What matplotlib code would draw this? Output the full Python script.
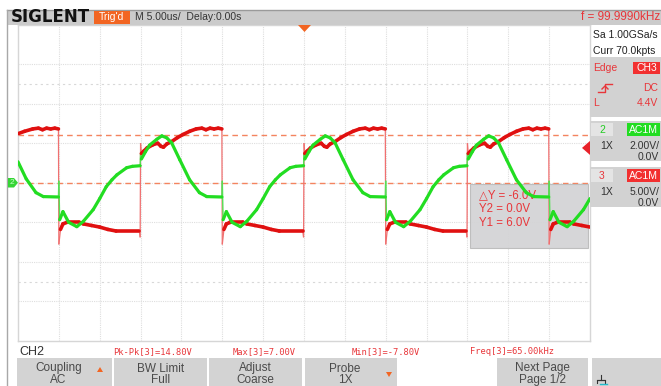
import numpy as np
import matplotlib
matplotlib.use("Agg")
import matplotlib.pyplot as plt
from matplotlib.collections import LineCollection
from matplotlib.patches import Rectangle, Polygon

time_per_div = 5.0   # us / div
ch2_volts_per_div = 2.0
ch3_volts_per_div = 5.0
trigger_level = 4.4  # V on CH3
cursor_y1 = 6.0
cursor_y2 = 0.0

# CH3 (red) trace: time in us, volts
ch3_t = [-35.0, -34.2, -33.2, -32.5, -32.0, -31.5, -31.0, -30.5, -30.05,
         -30.0, -29.8, -29.5, -29.0, -27.5, -27.0, -26.0, -25.0, -24.0, -23.0, -20.15, -20.05,
         -20.0, -19.9, -19.6, -19.2, -18.5, -17.9, -17.5, -17.2, -16.8, -16.2, -15.5, -14.8,
         -14.0, -13.2, -12.5, -12.0, -11.5, -11.0, -10.5, -10.05,
         -10.0, -9.8, -9.5, -9.0, -7.5, -7.0, -6.0, -5.0, -4.0, -3.0, -0.15, -0.05,
         0.0, 0.1, 0.4, 0.8, 1.5, 2.1, 2.5, 2.8, 3.2, 3.8, 4.5, 5.2, 6.0, 6.8, 7.5, 8.0,
         8.5, 9.0, 9.5, 9.95,
         10.0, 10.2, 10.5, 11.0, 12.5, 13.0, 14.0, 15.0, 16.0, 17.0, 19.85, 19.95,
         20.0, 20.1, 20.4, 20.8, 21.5, 22.1, 22.5, 22.8, 23.2, 23.8, 24.5, 25.2, 26.0, 26.8,
         27.5, 28.0, 28.5, 29.0, 29.5, 29.95,
         30.0, 30.2, 30.5, 31.0, 32.5, 33.0, 34.0, 35.0]
ch3_v = [6.2, 6.5, 6.8, 6.9, 6.7, 6.9, 6.8, 6.9, 6.8,
         -7.8, -5.9, -5.2, -5.0, -5.0, -5.2, -5.4, -5.6, -5.9, -6.1, -6.1, -6.9,
         5.0, 3.7, 4.0, 4.4, 4.8, 5.0, 4.6, 4.5, 4.9, 5.2, 5.7, 6.1,
         6.5, 6.8, 6.9, 6.7, 6.9, 6.8, 6.9, 6.8,
         -7.8, -5.9, -5.2, -5.0, -5.0, -5.2, -5.4, -5.6, -5.9, -6.1, -6.1, -6.9,
         5.0, 3.7, 4.0, 4.4, 4.8, 5.0, 4.6, 4.5, 4.9, 5.2, 5.7, 6.1, 6.5, 6.8, 6.9, 6.7,
         6.9, 6.8, 6.9, 6.8,
         -7.8, -5.9, -5.2, -5.0, -5.0, -5.2, -5.4, -5.6, -5.9, -6.1, -6.1, -6.9,
         5.0, 3.7, 4.0, 4.4, 4.8, 5.0, 4.6, 4.5, 4.9, 5.2, 5.7, 6.1, 6.5, 6.8,
         6.9, 6.7, 6.9, 6.8, 6.9, 6.8,
         -7.8, -5.9, -5.2, -5.0, -5.0, -5.2, -5.4, -5.6]

# CH2 (green) trace: time in us, volts
ch2_t = [-35.0, -34.0, -32.8, -31.9, -30.05,
         -30.0, -29.9, -29.5, -28.8, -27.8, -27.0, -25.8, -25.0, -24.2, -23.5, -22.9, -21.7, -21.0, -20.05,
         -20.0, -19.9, -19.4, -18.9, -18.0, -17.4, -16.8, -16.2, -15.2, -14.0, -12.8, -11.9, -10.05,
         -10.0, -9.9, -9.5, -8.8, -7.8, -7.0, -5.8, -5.0, -4.2, -3.5, -2.9, -1.7, -1.0, -0.05,
         0.0, 0.1, 0.6, 1.1, 2.0, 2.6, 3.2, 3.8, 4.8, 6.0, 7.2, 8.1, 9.95,
         10.0, 10.1, 10.5, 11.2, 12.2, 13.0, 14.2, 15.0, 15.8, 16.5, 17.1, 18.3, 19.0, 19.95,
         20.0, 20.1, 20.6, 21.1, 22.0, 22.6, 23.2, 23.8, 24.8, 26.0, 27.2, 28.1, 29.95,
         30.0, 30.1, 30.5, 31.2, 32.2, 33.0, 34.2, 35.0]
ch2_v = [1.06, 0.2, -0.5, -0.7, -0.72,
         0.1, -1.87, -1.46, -2.0, -2.22, -1.95, -1.36, -0.8, -0.2, 0.15, 0.4, 0.76, 0.83, 0.86,
         1.5, 1.2, 1.57, 1.9, 2.2, 2.37, 2.27, 2.02, 1.16, 0.15, -0.5, -0.7, -0.72,
         0.1, -1.87, -1.46, -2.0, -2.22, -1.95, -1.36, -0.8, -0.2, 0.15, 0.4, 0.76, 0.83, 0.86,
         1.5, 1.2, 1.57, 1.9, 2.2, 2.37, 2.27, 2.02, 1.16, 0.15, -0.5, -0.7, -0.72,
         0.1, -1.87, -1.46, -2.0, -2.22, -1.95, -1.36, -0.8, -0.2, 0.15, 0.4, 0.76, 0.83, 0.86,
         1.5, 1.2, 1.57, 1.9, 2.2, 2.37, 2.27, 2.02, 1.16, 0.15, -0.5, -0.7, -0.72,
         0.1, -1.87, -1.46, -2.0, -2.22, -1.95, -1.36, -0.8]

meas_labels = ["Pk-Pk[3]=14.80V", "Max[3]=7.00V", "Min[3]=-7.80V", "Freq[3]=65.00kHz"]
button_top = ["Coupling", "BW Limit", "Adjust", "Probe", "Next Page"]
button_bottom = ["AC", "Full", "Coarse", "1X", "Page 1/2"]
cursor_lines = ["\u25b3Y = -6.0V", "Y2 = 0.0V", "Y1 = 6.0V"]

# ---------------- figure ----------------
W, H = 661, 386
fig = plt.figure(figsize=(W / 100, H / 100), dpi=100)
fig.patch.set_facecolor("white")
FONT = ["Liberation Sans", "DejaVu Sans"]
RED = "#e8363a"
ORANGE = "#f26522"
GREEN = "#22dd22"


def fx(x):
    return x / W


def fy(y):
    return 1 - y / H


def prect(x0, y0, x1, y1, **kw):
    fig.add_artist(Rectangle((fx(x0), fy(y1)), (x1 - x0) / W, (y1 - y0) / H,
                             transform=fig.transFigure, **kw))


def ptext(x, y, s, **kw):
    kw.setdefault("family", FONT)
    kw.setdefault("va", "center")
    fig.text(fx(x), fy(y), s, **kw)


def ppoly(pts, **kw):
    fig.add_artist(Polygon([(fx(a), fy(b)) for a, b in pts], closed=True,
                           transform=fig.transFigure, **kw))


def pline(xs, ys, **kw):
    fig.add_artist(plt.Line2D([fx(a) for a in xs], [fy(b) for b in ys],
                              transform=fig.transFigure, **kw))


# header bar
prect(7, 10, 661, 24.5, facecolor="#cbcbcb", edgecolor="none", zorder=1)
pline([7, 661], [10, 10], color="#9a9a9a", lw=1.0, zorder=2)
pline([7, 7], [10, 386], color="#a8a8a8", lw=1.0, zorder=2)
ptext(11, 17.5, "SIGLENT", fontsize=12, fontweight="heavy", color="#111111",
      family="DejaVu Sans")
prect(94, 11, 130, 24, facecolor=ORANGE, edgecolor="none", zorder=3)
ptext(112, 17.5, "Trig'd", fontsize=7.5, color="white", ha="center", zorder=4)
ptext(135, 17.5, "M 5.00us/  Delay:0.00s", fontsize=7.5, color="#333333")
ptext(660, 17.5, "f = 99.9990kHz", fontsize=8.5, color=RED, ha="right")

# ---------------- graticule ----------------
L, R, T, B = 18, 590, 24.5, 341
ax = fig.add_axes([fx(L), fy(B), (R - L) / W, (B - T) / H])
ax.set_xlim(-7 * time_per_div, 7 * time_per_div)
ax.set_ylim(-4, 4)
ax.set_xticks([])
ax.set_yticks([])
for s in ax.spines.values():
    s.set_color("#d6d6d6")
    s.set_linewidth(1.0)
for i in range(-6, 7):
    ax.axvline(i * time_per_div, color="#dedede", lw=0.8, ls=(0, (1, 1)), zorder=1)
for j in range(-3, 4):
    ax.axhline(j, color="#dedede", lw=0.8, ls=(0, (1, 1)), zorder=1)
for j in (-2.5, 2.5):
    ax.axhline(j, color="#d8d8d8", lw=0.8, ls=(0, (2, 3)), zorder=1)

# cursors
for cv in (cursor_y1, cursor_y2):
    ax.axhline(cv / ch3_volts_per_div, color="#f4845f", lw=1.0, ls=(0, (4, 3)), zorder=2)

# cursor readout box (behind traces)
box_x0, box_x1 = 20.3, 34.8
ax.add_patch(Rectangle((box_x0, -1.65), box_x1 - box_x0, 1.65 - 0.04, facecolor="#d4d4d6",
                       edgecolor="#bcbcbc", lw=0.8, alpha=0.95, zorder=2))
for k, s in enumerate(cursor_lines):
    ax.text(21.4, -0.31 - k * 0.355, s, fontsize=8.3, color=RED, family=FONT,
            va="center", zorder=3)


def trace(t, v, vdiv, color, edge_color, lw_thick, lw_thin):
    t = np.asarray(t, float)
    y = np.asarray(v, float) / vdiv
    pts = np.column_stack([t, y])
    segs = np.stack([pts[:-1], pts[1:]], axis=1)
    dxp = np.diff(t) * (R - L) / (14 * time_per_div)
    dyp = np.abs(np.diff(y)) * (B - T) / 8
    steep = dyp > 4 * np.maximum(dxp, 1e-6)
    thin = LineCollection(segs[steep], linewidths=lw_thin, colors=edge_color, zorder=4)
    thick = LineCollection(segs[~steep], linewidths=lw_thick, colors=color,
                           capstyle="round", joinstyle="round", zorder=5)
    ax.add_collection(thin)
    ax.add_collection(thick)


trace(ch3_t, ch3_v, ch3_volts_per_div, "#e01010", "#f07070", 2.6, 0.9)
trace(ch2_t, ch2_v, ch2_volts_per_div, GREEN, "#55e055", 2.3, 1.0)

# markers
ppoly([(298, 25), (311, 25), (304.5, 32)], facecolor=ORANGE, edgecolor="none", zorder=6)
ty = 182.75 - trigger_level / ch3_volts_per_div * (B - T) / 8
ppoly([(590, ty - 7), (590, ty + 7), (582, ty)], facecolor="#e8222a", edgecolor="none", zorder=6)
ppoly([(8, 178), (14, 178), (18, 182.75), (14, 187.5), (8, 187.5)],
      facecolor="#35d535", edgecolor="none", zorder=6)
ptext(12, 183, "2", fontsize=6, color="#c8ffc8", ha="center", zorder=7)

# ---------------- right panel ----------------
ptext(593, 35, "Sa 1.00GSa/s", fontsize=7.5, color="#222222")
ptext(593, 51, "Curr 70.0kpts", fontsize=7.5, color="#222222")
prect(590, 57, 661, 117, facecolor="#d2d2d2", edgecolor="none")
ptext(593, 68, "Edge", fontsize=7.5, color=RED)
prect(633, 62, 660, 74, facecolor="#f23030", edgecolor="none")
ptext(647, 68, "CH3", fontsize=7.5, color="white", ha="center")
pline([598, 605, 605, 612], [92, 92, 84, 84], color=RED, lw=1.0)
pline([602, 605, 608], [89, 86, 89], color=RED, lw=1.0)
ptext(658, 88, "DC", fontsize=7.5, color=RED, ha="right")
ptext(593, 103, "L", fontsize=7.5, color=RED)
ptext(658, 103, "4.4V", fontsize=7.5, color=RED, ha="right")

for (y0, label, col, vd) in [(121, "2", "#22cc22", "2.00V/"), (167, "3", RED, "5.00V/")]:
    prect(590, y0, 661, y0 + 40, facecolor="#d2d2d2", edgecolor="none")
    prect(591, y0 + 2, 613, y0 + 15, facecolor="#e4e4e4", edgecolor="none")
    ptext(602, y0 + 9, label, fontsize=7.5, color=col, ha="center")
    boxc = "#22dd22" if label == "2" else "#f23030"
    prect(627, y0 + 2, 660, y0 + 15, facecolor=boxc, edgecolor="none")
    ptext(643.5, y0 + 9, "AC1M", fontsize=7.5, color="white", ha="center")
    ptext(600, y0 + 25, "1X", fontsize=7.5, color="#333333")
    ptext(659, y0 + 25, vd, fontsize=7.5, color="#333333", ha="right")
    ptext(659, y0 + 36, "0.0V", fontsize=7.5, color="#333333", ha="right")

# ---------------- bottom area ----------------
ptext(19, 352, "CH2", fontsize=9, color="#333333")
for s, x in zip(meas_labels, [113, 233, 352, 470]):
    ptext(x, 352, s, fontsize=6.3, color=RED, family="DejaVu Sans Mono")

btn_x = [(17, 112), (114, 207), (209, 302), (305, 397), (497, 588)]
for (x0, x1), top, bot in zip(btn_x, button_top, button_bottom):
    prect(x0, 358, x1, 388, facecolor="#d3d3d3", edgecolor="none")
    cx = (x0 + x1) / 2 - (6 if top in ("Coupling", "Probe") else 0)
    ptext(cx, 368.5, top, fontsize=8.5, color="#4a4a4a", ha="center")
    ptext(cx, 380, bot, fontsize=8.5, color="#4a4a4a", ha="center")
prect(592, 358, 661, 388, facecolor="#d3d3d3", edgecolor="none")
# small orange arrows
ppoly([(100, 367), (97, 372), (103, 372)], facecolor=ORANGE, edgecolor="none")
ppoly([(389, 377), (386, 372), (392, 372)], facecolor=ORANGE, edgecolor="none")
# network icon
pline([601, 601], [375, 380], color="#333333", lw=0.8)
pline([597, 605], [380, 380], color="#333333", lw=0.8)
pline([597, 597, 605, 605], [383, 380, 380, 383], color="#333333", lw=0.8)
pline([600, 607], [384, 384], color="#22bbcc", lw=1.0)

fig.savefig("out.png", dpi=100, facecolor="white")
